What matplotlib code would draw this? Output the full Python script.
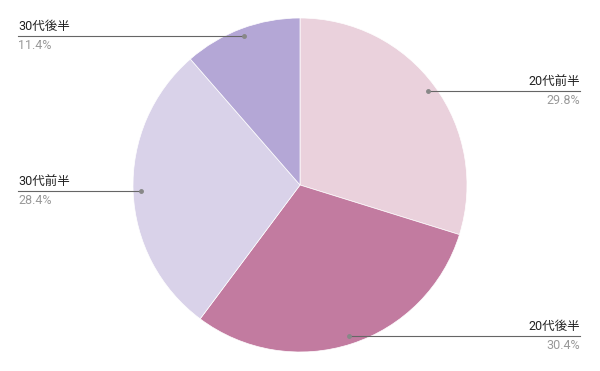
import matplotlib.pyplot as plt
import numpy as np

plt.rcParams['font.family'] = ['Roboto', 'Noto Sans CJK JP', 'DejaVu Sans']

labels = ["20代前半", "20代後半", "30代前半", "30代後半"]
values = [29.8, 30.4, 28.4, 11.4]
colors = ["#EAD1DC", "#C27BA0", "#D9D2E9", "#B4A7D6"]

# label x positions (pixels) and alignment side
label_x = [580, 580, 18, 18]

fig = plt.figure(figsize=(6, 3.71), dpi=100)
ax = fig.add_axes([0, 0, 1, 1])

cx, cy, r = 300, 186, 167
wedges, _ = ax.pie(values, colors=colors, startangle=90, counterclock=False,
                   center=(cx, cy), radius=r, frame=True,
                   wedgeprops=dict(edgecolor='white', linewidth=0.5))
ax.set_xlim(0, 600)
ax.set_ylim(0, 371)
ax.set_aspect('equal')
ax.axis('off')

cum = np.cumsum([0] + values[:-1])
for i, (lab, v) in enumerate(zip(labels, values)):
    mid = (cum[i] + v / 2) / 100 * 2 * np.pi
    px = cx + 0.95 * r * np.sin(mid)
    py = cy + 0.95 * r * np.cos(mid)
    lx = label_x[i]
    ax.plot([px, lx], [py, py], color='#666666', lw=0.8, zorder=3)
    ax.plot(px, py, 'o', color='#888888', ms=2.5, zorder=4)
    ha = 'right' if lx > cx else 'left'
    ax.text(lx, py + 3, lab, ha=ha, va='bottom', fontsize=9, color='#222222')
    ax.text(lx, py - 3, f"{v:.1f}%", ha=ha, va='top', fontsize=9, color='#999999')

fig.savefig("out.png", dpi=100)
